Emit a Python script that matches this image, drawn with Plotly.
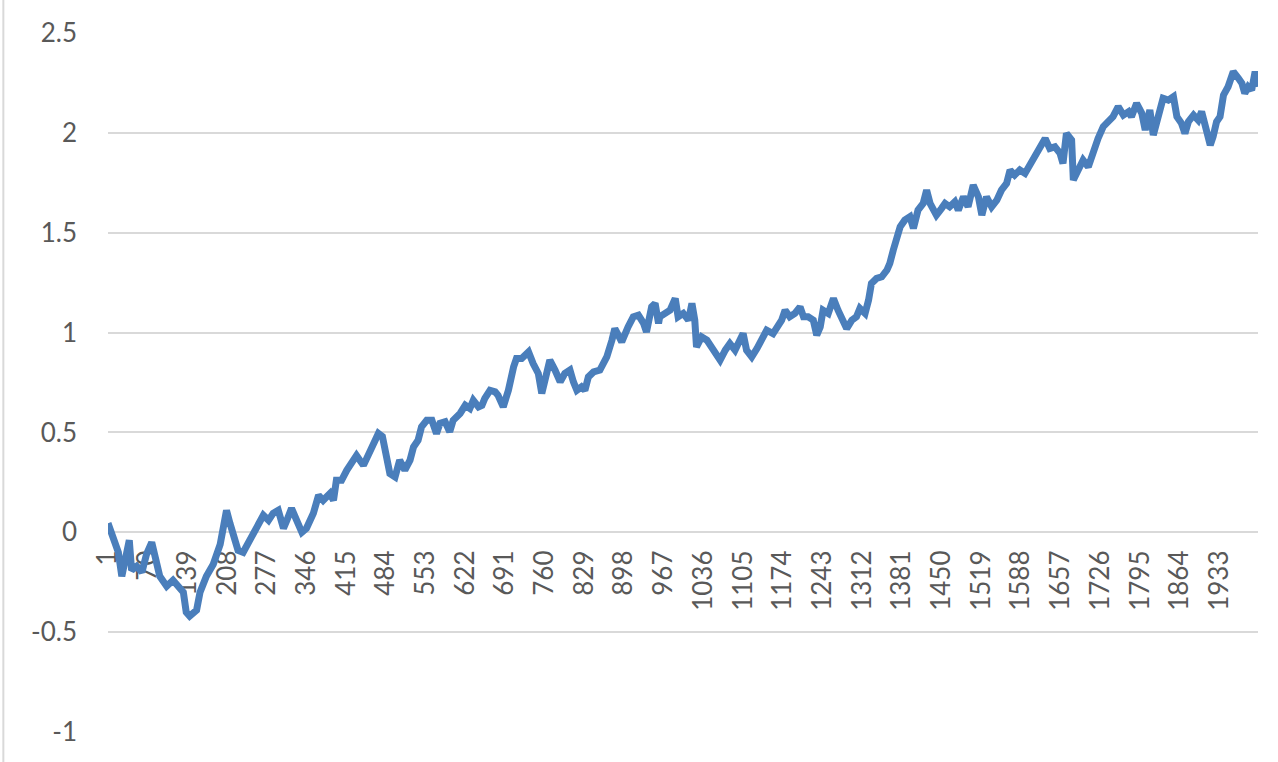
import plotly.graph_objects as go

idx = [1, 7, 13, 19, 25, 30, 38, 42, 51, 60, 68, 77, 83, 91, 103, 114, 123, 132, 137, 143,
       155, 161, 172, 184, 196, 203, 207, 213, 219, 227, 236, 245, 253, 262, 271, 280, 288, 297,
       306, 312, 320, 329, 338, 346, 358, 367, 375, 387, 393, 398, 407, 416, 425, 433, 445, 453,
       462, 471, 478, 482, 491, 500, 508, 517, 526, 532, 540, 546, 555, 564, 572, 578, 587, 595,
       601, 613, 622, 630, 636, 645, 651, 656, 665, 674, 679, 688, 697, 706, 711, 720, 732, 740,
       749, 755, 761, 769, 778, 787, 795, 804, 810, 816, 824, 830, 836, 845, 856, 868, 877, 882,
       888, 894, 905, 914, 923, 932, 937, 946, 952, 958, 960, 969, 978, 987, 992, 1001, 1010, 1016,
       1021, 1024, 1033, 1042, 1050, 1059, 1065, 1074, 1082, 1091, 1100, 1105, 1111, 1120, 1129,
       1137, 1146, 1157, 1166, 1172, 1178, 1186, 1195, 1204, 1210, 1218, 1227, 1233, 1239, 1244,
       1253, 1262, 1270, 1279, 1285, 1294, 1302, 1308, 1317, 1323, 1328, 1337, 1346, 1355, 1360,
       1366, 1372, 1378, 1386, 1395, 1401, 1409, 1418, 1424, 1430, 1441, 1450, 1456, 1464, 1473,
       1479, 1488, 1496, 1505, 1514, 1520, 1528, 1537, 1546, 1554, 1563, 1569, 1577, 1586, 1595,
       1604, 1612, 1621, 1630, 1638, 1647, 1656, 1661, 1667, 1676, 1679, 1688, 1696, 1705, 1714,
       1722, 1731, 1740, 1748, 1757, 1766, 1775, 1780, 1789, 1798, 1804, 1812, 1818, 1827, 1835,
       1844, 1853, 1859, 1867, 1873, 1879, 1888, 1896, 1902, 1911, 1917, 1922, 1928, 1934, 1940,
       1948, 1957, 1966, 1972, 1977, 1983, 1989, 1995, 2000]

values = [0.045, 0.0, -0.055, -0.1, -0.22, -0.13, -0.04, -0.19, -0.17, -0.2, -0.11, -0.05, -0.13,
          -0.22, -0.27, -0.24, -0.27, -0.3, -0.4, -0.42, -0.39, -0.3, -0.22, -0.16, -0.06, 0.06,
          0.11, 0.045, -0.025, -0.09, -0.1, -0.055, 0.0, 0.045, 0.085, 0.06, 0.095, 0.11, 0.02,
          0.06, 0.12, 0.06, 0.0, 0.02, 0.095, 0.185, 0.16, 0.195, 0.16, 0.26, 0.26, 0.31, 0.345,
          0.385, 0.335, 0.385, 0.45, 0.495, 0.48, 0.427, 0.294, 0.277, 0.361, 0.311, 0.361, 0.427,
          0.461, 0.528, 0.561, 0.561, 0.494, 0.545, 0.553, 0.503, 0.561, 0.595, 0.636, 0.62, 0.661,
          0.628, 0.636, 0.67, 0.711, 0.703, 0.686, 0.628, 0.711, 0.828, 0.87, 0.87, 0.903, 0.845,
          0.795, 0.695, 0.778, 0.862, 0.812, 0.753, 0.795, 0.812, 0.753, 0.711, 0.728, 0.711, 0.778,
          0.803, 0.812, 0.878, 0.962, 1.02, 0.987, 0.953, 1.028, 1.079, 1.087, 1.046, 1.003, 1.129,
          1.146, 1.046, 1.079, 1.096, 1.112, 1.171, 1.079, 1.096, 1.062, 1.146, 1.062, 0.928, 0.978,
          0.962, 0.928, 0.895, 0.862, 0.912, 0.945, 0.912, 0.978, 0.995, 0.912, 0.878, 0.92, 0.962,
          1.012, 0.995, 1.028, 1.062, 1.112, 1.079, 1.096, 1.129, 1.079, 1.079, 1.062, 0.987, 1.028,
          1.112, 1.096, 1.171, 1.112, 1.046, 1.02, 1.062, 1.079, 1.121, 1.096, 1.162, 1.246, 1.271,
          1.279, 1.313, 1.346, 1.413, 1.463, 1.53, 1.563, 1.58, 1.522, 1.613, 1.647, 1.713, 1.647,
          1.588, 1.622, 1.647, 1.63, 1.655, 1.613, 1.68, 1.63, 1.738, 1.68, 1.588, 1.68, 1.63, 1.663,
          1.713, 1.747, 1.814, 1.789, 1.814, 1.797, 1.839, 1.88, 1.93, 1.972, 1.922, 1.93, 1.897,
          1.847, 1.997, 1.964, 1.764, 1.814, 1.864, 1.83, 1.914, 1.972, 2.031, 2.056, 2.081, 2.131,
          2.089, 2.106, 2.081, 2.148, 2.098, 2.014, 2.114, 1.989, 2.098, 2.173, 2.164, 2.181, 2.081,
          2.048, 1.997, 2.056, 2.089, 2.064, 2.106, 1.997, 1.939, 1.981, 2.056, 2.081, 2.189, 2.231,
          2.306, 2.273, 2.248, 2.198, 2.231, 2.214, 2.306, 2.231]

x_ticks = [1, 70, 139, 208, 277, 346, 415, 484, 553, 622, 691, 760, 829, 898, 967, 1036, 1105,
           1174, 1243, 1312, 1381, 1450, 1519, 1588, 1657, 1726, 1795, 1864, 1933]
y_ticks = [-1, -0.5, 0, 0.5, 1, 1.5, 2, 2.5]
y_tick_text = ["-1", "-0.5", "0", "0.5", "1", "1.5", "2", "2.5"]

Y_MIN, Y_MAX = -1, 2.5
N = 2000

fig = go.Figure()
fig.add_trace(go.Scatter(
    x=idx, y=values, mode="lines",
    line=dict(color="#4a7ebb", width=7),
    hoverinfo="skip", showlegend=False,
))

text_font = dict(family="Lato, Open Sans, sans-serif", size=26, color="#595959")

fig.update_layout(
    width=1278, height=762,
    margin=dict(l=108, r=20, t=33, b=30),
    paper_bgcolor="white", plot_bgcolor="white",
    showlegend=False,
    xaxis=dict(
        range=[1, N], tickmode="array", tickvals=x_ticks,
        ticktext=[str(t) for t in x_ticks],
        tickangle=-90, tickfont=text_font,
        showgrid=False, zeroline=False, showline=False,
        anchor="free", position=(0 - Y_MIN) / (Y_MAX - Y_MIN),
        ticklabelstandoff=12, layer="below traces",
    ),
    yaxis=dict(
        range=[Y_MIN, Y_MAX], tickmode="array", tickvals=y_ticks, ticktext=y_tick_text,
        tickfont=text_font, showgrid=True, gridcolor="#d9d9d9", gridwidth=1.5,
        zeroline=False, showline=False, ticklabelstandoff=30,
    ),
)

# chart-area border on the left edge
fig.add_shape(type="line", xref="paper", yref="paper",
              x0=-0.091, x1=-0.091, y0=-0.1, y1=1.1,
              line=dict(color="#d9d9d9", width=2))

fig.write_html(
    "out.html",
    config={"displayModeBar": False},
    post_script="document.body.style.margin='0';document.body.style.overflow='hidden';",
)
